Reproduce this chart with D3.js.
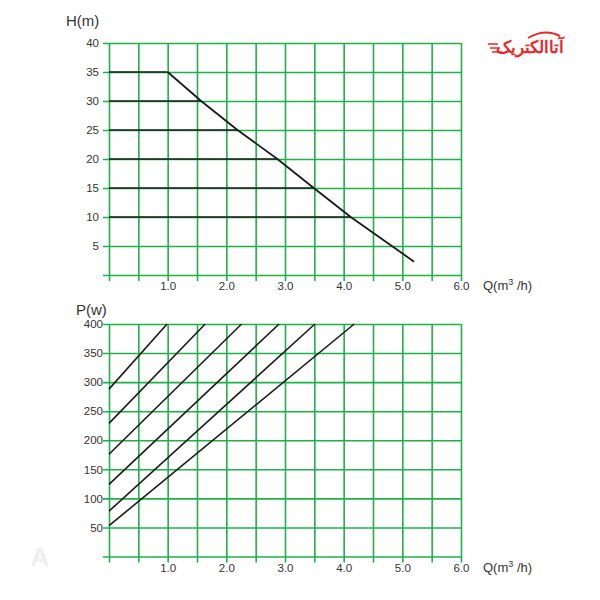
<!DOCTYPE html>
<html>
<head>
<meta charset="utf-8">
<script src="https://cdn.jsdelivr.net/npm/d3@7"></script>
<style>
  body { margin: 0; background: #fff; }
  svg { display: block; }
  text { font-family: Arial, "Liberation Sans", sans-serif; }
</style>
</head>
<body>
<svg id="chart" width="600" height="600"></svg>
<script>
// ---------- data ----------
const qTicks = [0, 0.5, 1, 1.5, 2, 2.5, 3, 3.5, 4, 4.5, 5, 5.5, 6];
const qLabels = [1, 2, 3, 4, 5, 6];
const hTicks = [0, 5, 10, 15, 20, 25, 30, 35, 40];
const pTicks = [0, 50, 100, 150, 200, 250, 300, 350, 400];

// H-Q curve points
const curveQ = [1.0, 1.57, 2.19, 2.87, 3.49, 4.12, 5.2];
const curveH = [35, 30, 25, 20, 15, 10, 2.3];
// horizontal H levels and where they end on the curve
const levelH = [35, 30, 25, 20, 15, 10];
const levelEndQ = [1.0, 1.57, 2.19, 2.87, 3.49, 4.12];

// P-Q lines: start power at Q=0 and Q where they reach 400 W
const powerStart = [288, 229, 176, 124, 78, 53];
const powerEndQ = [0.99, 1.64, 2.26, 2.90, 3.51, 4.18];
const powerEndP = 400;

// ---------- drawing ----------
const svg = d3.select("#chart");
const green = "#1fb04a";
const ink = "#1a1a1a";
const textCol = "#333";

const x = d3.scaleLinear().domain([0, 6]).range([109, 461]);
const yH = d3.scaleLinear().domain([0, 40]).range([275, 43]);
const yP = d3.scaleLinear().domain([0, 400]).range([556.5, 324]);

function panel(y, yTickVals, labelPad, yLabel, yLabelX, yLabelY) {
  const g = svg.append("g");
  const y0 = y.range()[0], y1 = y.range()[1];
  const ay = d3.axisLeft(y).tickValues(yTickVals)
    .tickSizeInner(-(x(6) - x(0))).tickSizeOuter(0).tickPadding(labelPad)
    .tickFormat(d => d === 0 ? "" : d);
  const gy = g.append("g").attr("transform", `translate(${x(0)},0)`).call(ay);
  gy.select(".domain").remove();
  gy.selectAll(".tick line").attr("x1", -6).attr("stroke", green).attr("stroke-width", 1.6);
  gy.selectAll(".tick text").attr("fill", textCol).attr("font-size", 11.5);
  const ax = d3.axisBottom(x).tickValues(qTicks)
    .tickSizeInner(-(y0 - y1)).tickSizeOuter(0).tickPadding(7)
    .tickFormat(d => qLabels.includes(d) ? d3.format(".1f")(d) : "");
  const gx = g.append("g").attr("transform", `translate(0,${y0})`).call(ax);
  gx.select(".domain").remove();
  gx.selectAll(".tick line").attr("y1", 6).attr("stroke", green).attr("stroke-width", 1.6);
  gx.selectAll(".tick text").attr("fill", textCol).attr("font-size", 11.5);
  g.append("text").attr("x", yLabelX).attr("y", yLabelY)
    .attr("fill", textCol).attr("font-size", 15).text(yLabel);
  const q = g.append("text").attr("x", 483).attr("y", y0 + 15)
    .attr("fill", textCol).attr("font-size", 13);
  q.append("tspan").text("Q(m");
  q.append("tspan").attr("font-size", 9).attr("dy", -5).text("3");
  q.append("tspan").attr("dy", 5).text(" /h)");
  return g;
}

const topPanel = panel(yH, hTicks, 10, "H(m)", 66, 26);
const botPanel = panel(yP, pTicks, 6, "P(w)", 76, 315);

// H levels
topPanel.selectAll("line.level").data(levelH).enter().append("line")
  .attr("class", "level")
  .attr("x1", x(0)).attr("x2", (d, i) => x(levelEndQ[i]))
  .attr("y1", d => yH(d)).attr("y2", d => yH(d))
  .attr("stroke", ink).attr("stroke-width", 1.6);

// H-Q curve
const curve = curveQ.map((q, i) => [q, curveH[i]]);
topPanel.append("path").datum(curve)
  .attr("d", d3.line().x(d => x(d[0])).y(d => yH(d[1])))
  .attr("fill", "none").attr("stroke", ink).attr("stroke-width", 1.8);

// P-Q lines
botPanel.selectAll("line.pw").data(powerStart).enter().append("line")
  .attr("class", "pw")
  .attr("x1", x(0)).attr("y1", d => yP(d))
  .attr("x2", (d, i) => x(powerEndQ[i])).attr("y2", yP(powerEndP))
  .attr("stroke", ink).attr("stroke-width", 1.6);

// logo
const logo = svg.append("g");
logo.append("text").attr("x", 530).attr("y", 53).attr("text-anchor", "middle")
  .attr("font-family", "DejaVu Sans, Noto Sans, sans-serif")
  .attr("font-size", 17).attr("font-weight", "bold").attr("fill", "#e32b2e")
  .text("آتاالکتریک");
logo.append("path").attr("d", "M528,38 Q545,28 560,36")
  .attr("fill", "none").attr("stroke", "#e32b2e").attr("stroke-width", 2);
logo.selectAll("line.sp").data([0, 1, 2]).enter().append("line")
  .attr("x1", d => 488 + d * 2).attr("x2", d => 498 + d * 2)
  .attr("y1", d => 44 + d * 4).attr("y2", d => 44 + d * 4)
  .attr("stroke", "#e32b2e").attr("stroke-width", 1.5);

// watermark
svg.append("text").attr("x", 40).attr("y", 566).attr("text-anchor", "middle")
  .attr("font-size", 26).attr("font-weight", "bold").attr("fill", "#efefef").text("A");
</script>
</body>
</html>
